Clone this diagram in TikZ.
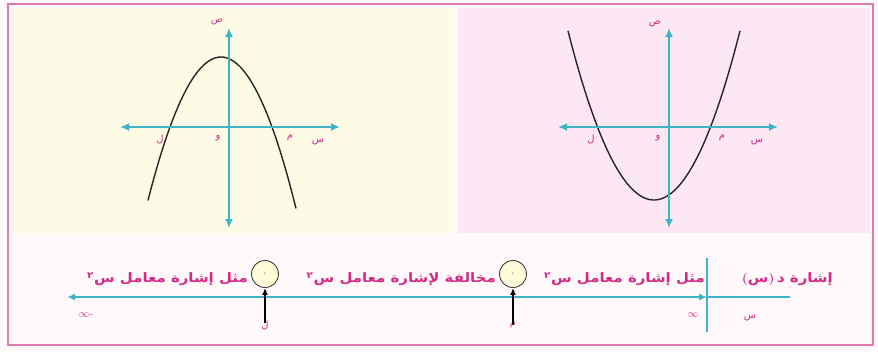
\documentclass[tikz,border=0pt]{standalone}
\usepackage{fontspec}
\usepackage{graphicx}
\newfontfamily\arf[Script=Arabic]{DejaVu Sans}
\TeXXeTstate=1
\usetikzlibrary{arrows.meta}
\definecolor{framec}{HTML}{E07BB0}
\definecolor{cream}{HTML}{FDFAE6}
\definecolor{pinkbg}{HTML}{FCE7F2}
\definecolor{axisc}{HTML}{3DB5C6}
\definecolor{mag}{HTML}{D42A86}
\definecolor{outerc}{HTML}{FFF9FC}
\definecolor{zerofill}{HTML}{FFFBD8}
\newcommand{\wide}[1]{\scalebox{1.15}[1]{#1}}
\begin{document}
\begin{tikzpicture}[x=1pt,y=-1pt,
 axisline/.style={axisc, line width=2pt, {Latex[length=9pt,width=8pt]}-{Latex[length=9pt,width=8pt]}},
 curve/.style={line width=1.4pt, black!85},
 lbl/.style={text=mag, font=\arf\fontsize{10}{11}\selectfont, inner sep=0pt},
 sgn/.style={text=mag, font=\arf\bfseries\boldmath\fontsize{13}{15}\selectfont, inner sep=0pt},
 zero/.style={circle, draw=black!75, line width=0.9pt, fill=zerofill, minimum size=27pt, inner sep=0pt, font=\arf\fontsize{7}{8}\selectfont},
 ptr/.style={-{Latex[length=7pt,width=6pt]}, line width=1.3pt, black}]
\useasboundingbox (0,0) rectangle (878,351);
\fill[outerc] (0,0) rectangle (878,351);
\fill[cream] (12,8) rectangle (454,233);
\fill[pinkbg] (458,8) rectangle (870,233);
\draw[framec, line width=2.5pt] (8,4) rectangle (873,345);
% left graph
\coordinate (LxA) at (120,127); \coordinate (LxB) at (340,127);
\coordinate (LyA) at (229,228); \coordinate (LyB) at (229,28);
\draw[curve] plot[domain=148:296, samples=60, smooth] (\x, {57+70*((\x-221)/51)^2});
\draw[axisline] (LxA) -- (LxB);
\draw[axisline] (LyA) -- (LyB);
\node[lbl] (Ly) at (217,22) {\beginR ص\endR};
\node[lbl] (Ll) at (160,139) {\beginR ل\endR};
\node[lbl] (Lo) at (218,138) {\beginR و\endR};
\node[lbl] (Lm) at (290,138) {\beginR م\endR};
\node[lbl] (Lx) at (318,142) {\beginR س\endR};
% right graph
\coordinate (RxA) at (558,127); \coordinate (RxB) at (778,127);
\coordinate (RyA) at (669,228); \coordinate (RyB) at (669,28);
\draw[curve] plot[domain=568:740, samples=60, smooth] (\x, {200-73*((\x-654)/56.5)^2});
\draw[axisline] (RxA) -- (RxB);
\draw[axisline] (RyA) -- (RyB);
\node[lbl] (Ry) at (655,24) {\beginR ص\endR};
\node[lbl] (Rl) at (591,139) {\beginR ل\endR};
\node[lbl] (Ro) at (658,138) {\beginR و\endR};
\node[lbl] (Rm) at (722,138) {\beginR م\endR};
\node[lbl] (Rx) at (757,142) {\beginR س\endR};
% number line
\coordinate (nlL) at (67,297); \coordinate (nlV) at (707,297); \coordinate (nlR) at (790,297);
\coordinate (vT) at (707,258); \coordinate (vB) at (707,332);
\draw[axisc, line width=1.6pt, {Latex[length=8pt,width=7pt]}-{Latex[length=8pt,width=7pt]}] (nlL) -- (nlV);
\draw[axisc, line width=1.6pt] (nlV) -- (nlR);
\draw[axisc, line width=1.2pt] (vT) -- (vB);
\node[zero] (z1) at (265,274) {٠};
\node[zero] (z2) at (513,274) {٠};
\node[lbl] (bl) at (265,325) {\beginR ل\endR};
\node[lbl] (bm) at (513,325) {\beginR م\endR};
\draw[ptr] ([yshift=-3pt]bl.north) -- (z1.south);
\draw[ptr] ([yshift=-3pt]bm.north) -- (z2.south);
\node[sgn, anchor=east] (s1) at (833,279) {\wide{$($\beginR س\endR$)$\,\beginR إشارة د\endR}};
\node[sgn, anchor=east] (s2) at (705,279) {\wide{\beginR مثل إشارة معامل س\textsuperscript{٢}\endR}};
\node[sgn, anchor=east] (s3) at (496,279) {\wide{\beginR مخالفة لإشارة معامل س\textsuperscript{٢}\endR}};
\node[sgn, anchor=east] (s4) at (248,279) {\wide{\beginR مثل إشارة معامل س\textsuperscript{٢}\endR}};
\node[text=mag, inner sep=0pt, font=\fontsize{11}{12}\selectfont] (inf1) at (86,315) {$\infty$-};
\node[text=mag, inner sep=0pt, font=\fontsize{11}{12}\selectfont] (inf2) at (693,315) {$\infty$};
\node[lbl] (xs) at (750,318) {\beginR س\endR};
\end{tikzpicture}
\end{document}
